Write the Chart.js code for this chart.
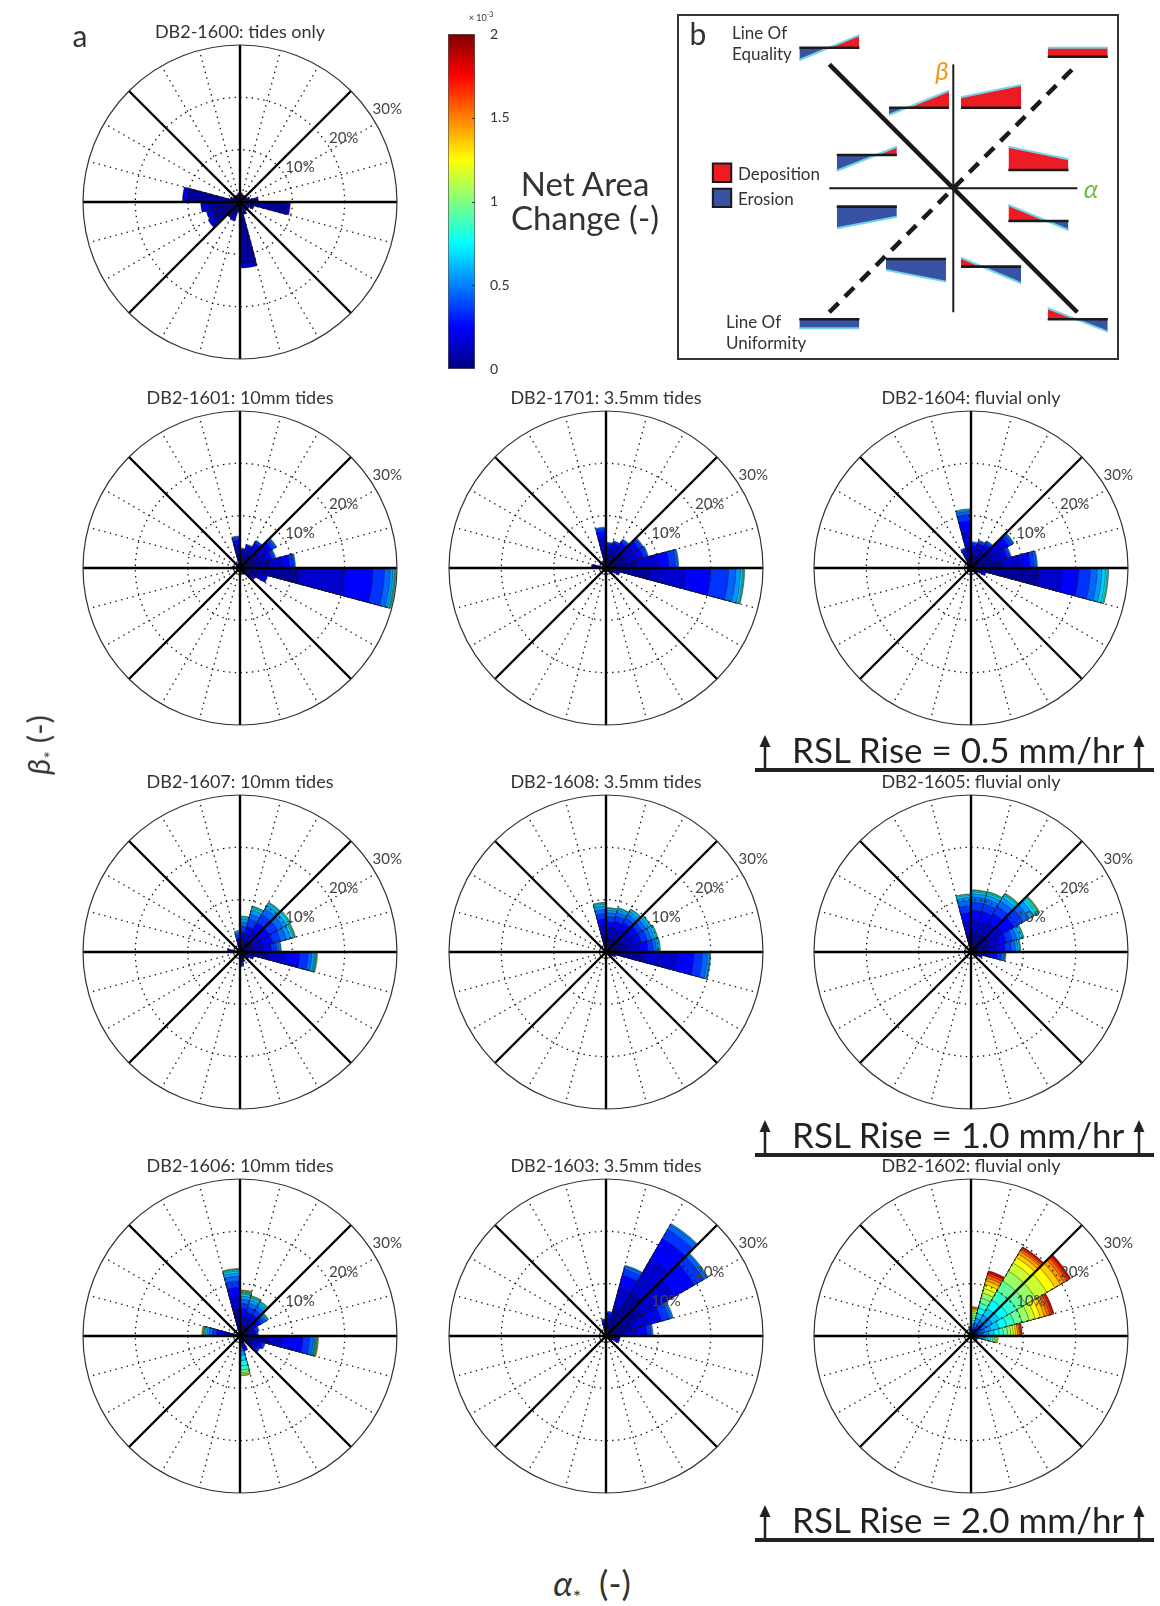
<!DOCTYPE html>
<html>
<head>
<meta charset="utf-8">
<script src="https://cdn.jsdelivr.net/npm/chart.js@4.4.0/dist/chart.umd.min.js"></script>
<style>
  body { margin: 0; background: #fff; width: 1160px; height: 1606px; position: relative; overflow: hidden;
         font-family: Lato, 'Open Sans', sans-serif; color: #333; }
  canvas { position: absolute; }
  .txt { position: absolute; white-space: nowrap; line-height: 1; transform: translate(-50%, -50%); }
  .lft { transform: translate(0, -50%); }
  .box { position: absolute; left: 677px; top: 14px; width: 438px; height: 342px; border: 2px solid #333; }
  .rule { position: absolute; left: 755px; width: 399px; height: 4px; background: #222; }
  svg { position: absolute; left: 0; top: 0; }
</style>
</head>
<body>
<script>
// direction bins, 15 deg wide, counter-clockwise from the alpha axis
const binStart = [0, 15, 30, 45, 60, 75, 90, 105, 120, 135, 150, 165,
                  180, 195, 210, 225, 240, 255, 270, 285, 300, 315, 330, 345];
// net area change classes (x 10^-3)
const classEdges = [0, 0.1, 0.2, 0.3, 0.4, 0.5, 0.6, 0.7, 0.8, 0.9, 1.0,
                    1.1, 1.2, 1.3, 1.4, 1.5, 1.6, 1.7, 1.8, 1.9, 2.0];
const ringValues = [10, 20, 30];
const ringLabels = ['10%', '20%', '30%'];
const cbarTicks = [0, 0.5, 1, 1.5, 2];

const panelTitles = ['DB2-1600: tides only', 'DB2-1601: 10mm tides', 'DB2-1701: 3.5mm tides', 'DB2-1604: fluvial only',
                     'DB2-1607: 10mm tides', 'DB2-1608: 3.5mm tides', 'DB2-1605: fluvial only',
                     'DB2-1606: 10mm tides', 'DB2-1603: 3.5mm tides', 'DB2-1602: fluvial only'];

// frequency (%) per net-area-change class, one list per direction bin
const seg1600 = [
  [3.5], [2.0], [1.5], [1.5], [1.5], [1.8], [1.8], [1.5], [1.5], [1.5], [2.0],
  [10.0, 1.0],
  [6.0, 1.5],
  [5.5, 1.2],
  [5.8, 1.2],
  [3.0, 0.5],
  [3.2, 0.6],
  [2.0],
  [11.8, 0.8],
  [2.5], [2.0], [2.0], [2.8],
  [9.0, 0.6]
];
const seg1601 = [
  [5.6, 2.6, 1.3, 0.8, 0.3],
  [3.5, 1.8, 1.0, 0.5, 0.3],
  [4.0, 2.0, 1.0, 0.6, 0.3, 0.2],
  [3.0, 1.5, 1.0, 0.4, 0.2],
  [2.5, 1.2, 0.7, 0.3],
  [2.0, 1.0, 0.5, 0.3],
  [3.0, 1.5, 0.8, 0.5, 0.3],
  [1.0], [0.8], [0.8], [0.8], [1.5],
  [0.8], [0.8], [0.8], [0.8], [0.8], [0.8],
  [1.2], [1.2], [1.5],
  [2.2, 0.8, 0.4],
  [3.5, 1.5, 0.5],
  [11.5, 8.5, 5.4, 2.2, 1.1, 0.5, 0.3, 0.1, 0.1, 0.1]
];
const seg1701 = [
  [5.9, 3.8, 2.3, 1.3, 0.4, 0.2],
  [4.0, 2.2, 1.2, 0.7, 0.3],
  [4.0, 2.0, 1.2, 0.7, 0.3],
  [3.0, 1.6, 1.0, 0.5, 0.3],
  [2.8, 1.4, 0.8, 0.4],
  [2.5, 1.2, 0.8, 0.4],
  [3.8, 2.0, 1.2, 0.5, 0.3],
  [1.5], [0.8], [0.8], [0.8],
  [2.2, 0.6],
  [0.8], [0.8], [0.8], [0.8], [0.8], [0.8], [0.8], [0.8], [0.8],
  [1.5],
  [2.0, 0.8],
  [8.5, 6.7, 4.8, 3.4, 1.4, 0.9, 0.4, 0.2, 0.1, 0.1]
];
const seg1604 = [
  [6.0, 3.5, 1.8, 0.8, 0.4, 0.2],
  [4.0, 2.2, 1.0, 0.5, 0.3],
  [4.5, 2.5, 1.3, 0.7, 0.3, 0.2],
  [3.0, 1.5, 0.8, 0.4, 0.3],
  [2.5, 1.5, 0.8, 0.4, 0.3],
  [2.2, 1.3, 0.8, 0.4, 0.3],
  [4.0, 3.0, 2.0, 1.2, 0.6, 0.3, 0.2],
  [2.0, 1.0, 0.6, 0.4],
  [0.8], [0.8], [0.8], [1.0],
  [0.8], [0.8], [0.8], [0.8], [0.8], [0.8], [0.8], [0.8], [0.8],
  [1.5],
  [2.0, 1.0],
  [13.0, 4.4, 3.2, 2.2, 1.3, 0.9, 0.7, 0.3, 0.2, 0.1]
];
const seg1607 = [
  [2.5, 2.0, 1.5, 1.0, 0.5, 0.3, 0.1],
  [2.5, 2.0, 2.0, 1.5, 1.2, 0.8, 0.5, 0.2, 0.1, 0.1, 0.1],
  [2.5, 2.0, 2.0, 1.8, 1.2, 0.8, 0.5, 0.2, 0.1, 0.1],
  [2.5, 2.0, 2.0, 1.8, 1.2, 0.8, 0.4, 0.1, 0.1, 0.1],
  [2.0, 1.5, 1.5, 1.5, 1.0, 0.8, 0.4, 0.2, 0.1, 0.1],
  [1.5, 1.2, 1.2, 1.0, 0.8, 0.6, 0.3, 0.2, 0.1],
  [1.0, 0.8, 0.8, 0.6, 0.4, 0.3, 0.2],
  [0.6], [0.6], [0.6], [0.6],
  [1.5, 0.9],
  [0.6], [0.6], [0.6], [0.6], [0.6], [0.6],
  [1.0, 0.8, 0.5, 0.3, 0.2],
  [1.5, 0.5],
  [1.2],
  [1.5, 0.5],
  [2.0, 0.8],
  [5.7, 3.1, 2.6, 1.6, 0.7, 0.5, 0.2, 0.1, 0.1, 0.1, 0.1]
];
const seg1608 = [
  [4.0, 2.5, 1.5, 1.0, 0.6, 0.4, 0.3, 0.1],
  [3.5, 2.0, 1.5, 1.2, 0.8, 0.6, 0.4, 0.2, 0.1],
  [3.5, 2.0, 1.5, 1.0, 0.8, 0.6, 0.4, 0.1, 0.1],
  [3.0, 2.0, 1.5, 1.0, 0.8, 0.6, 0.4, 0.1, 0.1],
  [3.0, 1.8, 1.3, 1.0, 0.7, 0.5, 0.3, 0.1, 0.1],
  [2.8, 1.8, 1.2, 1.0, 0.7, 0.5, 0.3, 0.1, 0.1],
  [3.0, 2.0, 1.3, 1.0, 0.8, 0.6, 0.4, 0.2, 0.1, 0.1],
  [0.5], [0.5], [0.5], [0.5],
  [0.8],
  [0.5], [0.5], [0.5], [0.5], [0.5], [0.5], [0.5], [0.5], [0.5],
  [1.0],
  [1.5, 0.5],
  [7.2, 6.4, 3.2, 1.6, 1.0, 0.4, 0.1, 0.1]
];
const seg1605 = [
  [3.0, 2.0, 1.5, 1.2, 0.8, 0.5, 0.3, 0.1, 0.1],
  [3.5, 2.0, 1.5, 1.2, 0.9, 0.6, 0.4, 0.2, 0.1, 0.1],
  [4.0, 3.0, 2.5, 2.0, 1.3, 1.0, 0.6, 0.3, 0.2, 0.1, 0.1, 0.1],
  [4.0, 2.5, 2.0, 1.5, 1.2, 0.8, 0.5, 0.2, 0.1, 0.1, 0.1],
  [3.5, 2.5, 2.0, 1.5, 1.0, 0.7, 0.4, 0.2, 0.1, 0.1],
  [3.5, 2.5, 2.0, 1.5, 1.0, 0.6, 0.4, 0.2, 0.1, 0.1],
  [3.5, 2.2, 1.8, 1.3, 1.0, 0.6, 0.4, 0.2, 0.1],
  [0.5], [0.5], [0.5], [0.5],
  [1.2],
  [0.5], [0.5], [0.5], [0.5], [0.5], [0.5], [0.5], [0.5], [0.5],
  [0.8],
  [1.5, 0.8],
  [2.5, 1.5, 1.0, 0.8, 0.5, 0.2, 0.1, 0.1]
];
const seg1606 = [
  [1.5, 1.0, 0.6, 0.4],
  [1.5, 1.0, 0.6, 0.4, 0.3],
  [2.0, 1.5, 1.0, 0.7, 0.5, 0.3, 0.2, 0.1],
  [2.0, 1.5, 1.2, 1.0, 0.8, 0.5, 0.3, 0.2, 0.1, 0.1],
  [2.0, 1.5, 1.2, 1.0, 0.8, 0.6, 0.4, 0.2, 0.1, 0.1, 0.1],
  [2.5, 1.5, 1.2, 1.0, 0.8, 0.6, 0.4, 0.2, 0.1, 0.1, 0.1, 0.1, 0.1, 0.1],
  [5.0, 2.5, 1.8, 1.2, 0.9, 0.6, 0.4, 0.2, 0.1, 0.1, 0.1],
  [0.6], [0.6], [0.6], [0.6],
  [2.0, 1.5, 1.0, 0.8, 0.6, 0.4, 0.3, 0.2, 0.1, 0.1, 0.1, 0.1, 0.1],
  [0.6], [0.6], [0.6], [0.6], [0.6], [0.6],
  [0.6, 0.5, 0.5, 0.6, 0.7, 0.8, 1.0, 1.0, 0.8, 0.5, 0.3, 0.2, 0.1],
  [1.5, 1.0, 0.5],
  [1.2],
  [2.0, 1.2, 0.8, 0.5],
  [2.5, 1.2, 0.8, 0.5],
  [5.6, 2.6, 3.8, 1.3, 0.7, 0.3, 0.1, 0.1, 0.1, 0.1, 0.1, 0.1, 0.1]
];
const seg1603 = [
  [3.5, 2.5, 1.8, 0.8, 0.4],
  [5.0, 3.5, 2.5, 1.5, 0.5, 0.3],
  [8.0, 7.0, 4.5, 2.0, 0.7, 0.3],
  [9.5, 7.5, 4.5, 2.0, 1.0, 0.3],
  [5.5, 4.0, 2.5, 1.2, 0.6, 0.2],
  [2.0, 1.5, 0.8, 0.4],
  [1.5, 1.0, 0.5, 0.3],
  [0.5], [0.5], [0.5], [0.5],
  [0.8],
  [0.5], [0.5], [0.5], [0.5], [0.5], [0.5], [0.5], [0.5], [0.5],
  [0.8],
  [1.5, 0.8, 0.4],
  [1.5, 0.8, 0.4]
];
const seg1602 = [
  [0.3, 0.3, 0.4, 0.6, 0.8, 1.0, 1.0, 1.0, 0.8, 0.8, 0.6, 0.5, 0.4, 0.4, 0.3, 0.2, 0.2, 0.2],
  [0.3, 0.4, 0.5, 0.7, 0.9, 1.2, 1.5, 1.6, 1.5, 1.5, 1.4, 1.2, 1.0, 0.8, 0.6, 0.5, 0.4, 0.3, 0.1],
  [0.4, 0.5, 0.6, 0.8, 1.0, 1.4, 1.6, 1.8, 2.0, 2.0, 2.2, 2.4, 1.8, 1.2, 0.8, 0.6, 0.4, 0.3, 0.2],
  [0.4, 0.5, 0.6, 0.8, 1.0, 1.3, 1.5, 1.8, 2.0, 2.2, 2.2, 1.8, 1.2, 0.8, 0.6, 0.4, 0.3, 0.2, 0.1],
  [0.3, 0.4, 0.5, 0.6, 0.8, 0.9, 1.0, 1.0, 1.0, 1.0, 1.0, 0.9, 0.8, 0.7, 0.6, 0.5, 0.4, 0.3, 0.2],
  [0.2, 0.2, 0.3, 0.4, 0.4, 0.5, 0.5, 0.5, 0.5, 0.5, 0.4, 0.3, 0.3, 0.2, 0.2, 0.2],
  [0.3, 0.3, 0.4, 0.4, 0.3, 0.2],
  [0.4], [0.4], [0.4], [0.4],
  [0.5],
  [0.4], [0.4], [0.4], [0.4], [0.4], [0.4], [0.4], [0.4], [0.4], [0.4],
  [0.5, 0.4, 0.3],
  [0.3, 0.3, 0.4, 0.5, 0.6, 0.6, 0.6, 0.5, 0.4, 0.3, 0.3, 0.2, 0.2]
];
const panelSegs = [seg1600, seg1601, seg1701, seg1604, seg1607, seg1608, seg1605, seg1606, seg1603, seg1602];

// schematic (panel b): profile glyphs in alpha/beta units
const glyphX = [-12.42, 7.61, -5.19, 0.62, -9.40, 4.44, -9.40, 4.44, -5.43, 0.62, -12.42, 7.61];
const glyphY = [11.34, 10.61, 6.5, 6.5, 2.69, 1.48, -1.48, -2.64, -5.70, -6.32, -10.56, -10.56];
const glyphL = [-0.99, 0.73, -0.59, 0.84, -1.27, 1.87, -1.75, 1.29, -0.89, 0.72, -0.73, 0.88];
const glyphR = [1.02, 0.73, 1.37, 1.83, 0.66, 0.86, -0.81, -0.72, -1.83, -1.34, -0.73, -1.0];
const glyphW = 4.85;

// layout
const roseCenters = [[240, 202], [240, 568], [606, 568], [971, 568], [240, 952], [606, 952], [971, 952],
                     [240, 1336], [606, 1336], [971, 1336]];
const ROSE_R = 157, CANVAS = 400;

function jet(t) {
  const f = v => Math.round(255 * Math.max(0, Math.min(1, v)));
  return 'rgb(' + f(1.5 - Math.abs(4 * t - 3)) + ',' + f(1.5 - Math.abs(4 * t - 2)) + ',' + f(1.5 - Math.abs(4 * t - 1)) + ')';
}

function addText(html, x, y, size, cls, style) {
  const d = document.createElement('div');
  d.className = 'txt' + (cls ? ' ' + cls : '');
  d.innerHTML = html;
  d.style.left = x + 'px';
  d.style.top = y + 'px';
  d.style.fontSize = size + 'px';
  if (style) Object.assign(d.style, style);
  document.body.appendChild(d);
  return d;
}

function addCanvas(x, y, w, h) {
  const c = document.createElement('canvas');
  c.width = w; c.height = h;
  c.style.left = x + 'px'; c.style.top = y + 'px';
  document.body.appendChild(c);
  return c;
}

// grid drawn over the petals, like the matlab polar axes
const roseGrid = {
  id: 'roseGrid',
  afterDatasetsDraw(chart) {
    const r = chart.scales.r, ctx = chart.ctx;
    const cx = r.xCenter, cy = r.yCenter;
    const R = r.getDistanceFromCenterForValue(ringValues[ringValues.length - 1]);
    ctx.save();
    ctx.strokeStyle = '#111';
    ctx.lineWidth = 1.3;
    ctx.setLineDash([1.4, 4.4]);
    ringValues.slice(0, -1).forEach(v => {
      ctx.beginPath();
      ctx.arc(cx, cy, r.getDistanceFromCenterForValue(v), 0, 2 * Math.PI);
      ctx.stroke();
    });
    binStart.forEach(a => {
      if (a % 45 === 0) return;
      const t = a * Math.PI / 180;
      ctx.beginPath();
      ctx.moveTo(cx, cy);
      ctx.lineTo(cx + R * Math.cos(t), cy - R * Math.sin(t));
      ctx.stroke();
    });
    ctx.setLineDash([]);
    ctx.strokeStyle = '#000';
    ctx.lineWidth = 2.4;
    binStart.forEach(a => {
      if (a % 45 !== 0) return;
      const t = a * Math.PI / 180;
      ctx.beginPath();
      ctx.moveTo(cx, cy);
      ctx.lineTo(cx + R * Math.cos(t), cy - R * Math.sin(t));
      ctx.stroke();
    });
    ctx.strokeStyle = '#333';
    ctx.lineWidth = 1.2;
    ctx.beginPath();
    ctx.arc(cx, cy, R, 0, 2 * Math.PI);
    ctx.stroke();
    ctx.fillStyle = '#444';
    ctx.font = '15px Lato';
    ctx.textAlign = 'left';
    ctx.textBaseline = 'alphabetic';
    const la = 33.5 * Math.PI / 180;
    ringValues.forEach((v, i) => {
      const d = r.getDistanceFromCenterForValue(v) + 2;
      ctx.fillText(ringLabels[i], cx + d * Math.cos(la), cy - d * Math.sin(la));
    });
    ctx.restore();
  }
};

function roseChart(canvas, segs) {
  const nClass = Math.max(...segs.map(s => s.length));
  const datasets = [];
  for (let c = 0; c < nClass; c++) {
    const data = [];
    // chart.js runs clockwise from east, the bins run counter-clockwise
    for (let i = 0; i < binStart.length; i++) {
      const s = segs[binStart.length - 1 - i];
      data.push(s.length > c ? s.slice(0, c + 1).reduce((a, b) => a + b, 0) : 0);
    }
    const mid = (classEdges[c] + classEdges[c + 1]) / 2 / classEdges[classEdges.length - 1];
    datasets.push({
      data: data,
      backgroundColor: jet(mid),
      borderColor: 'rgba(25,25,25,0.75)',
      borderWidth: ctx => (ctx.raw > 0 ? 0.6 : 0)
    });
  }
  return new Chart(canvas, {
    type: 'polarArea',
    data: { labels: binStart.slice().reverse().map(a => a + '°'), datasets: datasets },
    options: {
      responsive: false,
      animation: false,
      layout: { padding: (CANVAS - 2 * ROSE_R) / 2 },
      plugins: { legend: { display: false }, tooltip: { enabled: false } },
      scales: {
        r: {
          min: 0, max: ringValues[ringValues.length - 1], startAngle: 90,
          ticks: { display: false }, grid: { display: false },
          angleLines: { display: false }, pointLabels: { display: false }
        }
      }
    },
    plugins: [roseGrid]
  });
}

// roses
roseCenters.forEach((p, k) => {
  const cv = addCanvas(p[0] - CANVAS / 2, p[1] - CANVAS / 2, CANVAS, CANVAS);
  roseChart(cv, panelSegs[k]);
  addText(panelTitles[k], p[0], p[1] - ROSE_R - 14, 18);
});

// colorbar
const cbCanvas = addCanvas(440, 14, 100, 380);
new Chart(cbCanvas, {
  type: 'bar',
  data: {
    labels: ['Net Area Change'],
    datasets: [{
      data: [[cbarTicks[0], cbarTicks[cbarTicks.length - 1]]],
      backgroundColor: ctx => {
        const a = ctx.chart.chartArea;
        if (!a) return '#00f';
        const g = ctx.chart.ctx.createLinearGradient(0, a.bottom, 0, a.top);
        for (let k = 0; k <= 32; k++) g.addColorStop(k / 32, jet(k / 32));
        return g;
      },
      borderColor: '#555', borderWidth: 1, borderSkipped: false,
      barPercentage: 1, categoryPercentage: 1
    }]
  },
  options: {
    responsive: false,
    animation: false,
    layout: { padding: { left: 8, top: 20, right: 25, bottom: 25 } },
    plugins: { legend: { display: false }, tooltip: { enabled: false } },
    scales: {
      x: { display: false },
      y: {
        position: 'right', min: cbarTicks[0], max: cbarTicks[cbarTicks.length - 1],
        afterBuildTicks: s => { s.ticks = cbarTicks.map(v => ({ value: v })); },
        afterFit: s => { s.width = 40; },
        grid: { display: false }, border: { display: false },
        ticks: { padding: 7, color: '#333', font: { family: 'Lato', size: 14 }, callback: v => String(v) }
      }
    }
  },
  plugins: [{
    id: 'cbTicks',
    afterDatasetsDraw(chart) {
      const y = chart.scales.y, ctx = chart.ctx, a = chart.chartArea;
      ctx.save();
      ctx.strokeStyle = '#333';
      ctx.lineWidth = 1;
      cbarTicks.slice(1, -1).forEach(v => {
        const py = Math.round(y.getPixelForValue(v)) + 0.5;
        ctx.beginPath();
        ctx.moveTo(a.right - 3, py);
        ctx.lineTo(a.right, py);
        ctx.stroke();
      });
      ctx.restore();
    }
  }]
});
addText('&times; 10<sup style="font-size:7px">-3</sup>', 481, 16, 9);
addText('Net Area', 585, 183, 33);
addText('Change (-)', 585, 217, 33);

// panel b schematic
const boxDiv = document.createElement('div');
boxDiv.className = 'box';
document.body.appendChild(boxDiv);
const bCanvas = addCanvas(679, 16, 438, 342);
const RED = '#ed1c24', BLUE = '#3953a4', CYAN = '#6fd3e6';
const bSets = [];
glyphX.forEach((x0, k) => {
  const b = glyphY[k];
  bSets.push({ data: [{ x: x0, y: b }, { x: x0 + glyphW, y: b }], borderColor: '#1a1a1a', borderWidth: 2.6, fill: false });
});
glyphX.forEach((x0, k) => {
  const b = glyphY[k];
  bSets.push({
    data: [{ x: x0, y: b + glyphL[k] }, { x: x0 + glyphW, y: b + glyphR[k] }],
    borderColor: CYAN, borderWidth: 2,
    fill: { target: { value: b }, above: RED, below: BLUE }
  });
});
bSets.push({ data: [{ x: -10, y: 0 }, { x: 10, y: 0 }], borderColor: '#1a1a1a', borderWidth: 2 });
bSets.push({ data: [{ x: 0, y: -10 }, { x: 0, y: 10 }], borderColor: '#1a1a1a', borderWidth: 2 });
bSets.push({ data: [{ x: -10, y: 10 }, { x: 10, y: -10 }], borderColor: '#1a1a1a', borderWidth: 4.5 });
bSets.push({ data: [{ x: -10, y: -10 }, { x: 10, y: 10 }], borderColor: '#1a1a1a', borderWidth: 4.5, borderDash: [13, 9] });
bSets.push({ data: [{ x: -18.65, y: 1.25 }], showLine: false, pointStyle: 'rect', pointRadius: 13,
             pointBackgroundColor: RED, pointBorderColor: '#1a1a1a', pointBorderWidth: 2 });
bSets.push({ data: [{ x: -18.65, y: -0.77 }], showLine: false, pointStyle: 'rect', pointRadius: 13,
             pointBackgroundColor: BLUE, pointBorderColor: '#1a1a1a', pointBorderWidth: 2 });
bSets.forEach(d => { if (d.pointRadius === undefined) d.pointRadius = 0; });
new Chart(bCanvas, {
  type: 'line',
  data: { datasets: bSets },
  options: {
    responsive: false,
    animation: false,
    layout: { padding: 0, autoPadding: false },
    plugins: { legend: { display: false }, tooltip: { enabled: false } },
    elements: { line: { tension: 0 } },
    scales: {
      x: { type: 'linear', display: false, min: -22.12, max: 13.2 },
      y: { type: 'linear', display: false, min: -13.69, max: 13.9 }
    }
  }
});
addText('b', 698, 33, 30);
addText('Line Of', 732, 32, 17, 'lft');
addText('Equality', 732, 53, 17, 'lft');
addText('Deposition', 738, 173, 17, 'lft');
addText('Erosion', 738, 198, 17, 'lft');
addText('Line Of', 726, 321, 17, 'lft');
addText('Uniformity', 726, 342, 17, 'lft');
addText('<i>β</i>', 942, 70, 26, '', { color: '#f7941d' });
addText('<i>α</i>', 1091, 188, 26, '', { color: '#6cbe45' });

// panel letter and axis labels
addText('a', 80, 35, 30);
addText('<i>β</i><sub style="font-size:18px">*</sub> (-)', 41, 745, 31, '', { transform: 'translate(-50%,-50%) rotate(-90deg)' });
addText('<i>α</i><sub style="font-size:20px">*</sub>&nbsp; (-)', 592, 1585, 35);

// RSL banners
const bannerText = ['RSL Rise = 0.5 mm/hr', 'RSL Rise = 1.0 mm/hr', 'RSL Rise = 2.0 mm/hr'];
const bannerLine = [770, 1155, 1540];
let svg = '<svg width="1160" height="1606" xmlns="http://www.w3.org/2000/svg">';
bannerLine.forEach((ly, k) => {
  const rule = document.createElement('div');
  rule.className = 'rule';
  rule.style.top = (ly - 2) + 'px';
  document.body.appendChild(rule);
  addText(bannerText[k], 792, ly - 21, 35, 'lft', { color: '#222' });
  [765, 1139].forEach(ax => {
    svg += '<line x1="' + ax + '" y1="' + (ly - 1) + '" x2="' + ax + '" y2="' + (ly - 24) + '" stroke="#222" stroke-width="2.5"/>';
    svg += '<polygon points="' + (ax - 5.5) + ',' + (ly - 23) + ' ' + (ax + 5.5) + ',' + (ly - 23) + ' ' + ax + ',' + (ly - 35) + '" fill="#222"/>';
  });
});
svg += '</svg>';
const holder = document.createElement('div');
holder.innerHTML = svg;
document.body.appendChild(holder.firstChild);
</script>
</body>
</html>
